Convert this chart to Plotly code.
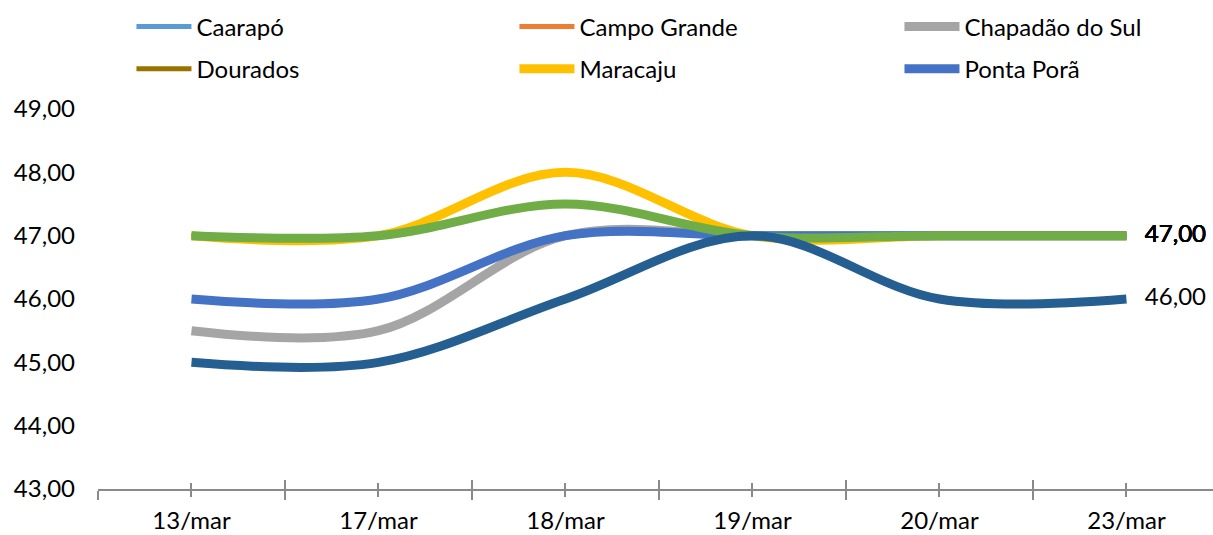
import plotly.graph_objects as go

categories = ["13/mar", "17/mar", "18/mar", "19/mar", "20/mar", "23/mar"]

caarapo = [47.0, 47.0, 47.5, 47.0, 47.0, 47.0]
campo_grande = [47.0, 47.0, 47.5, 47.0, 47.0, 47.0]
chapadao = [45.5, 45.5, 47.0, 47.0, 47.0, 47.0]
dourados = [47.0, 47.0, 47.5, 47.0, 47.0, 47.0]
maracaju = [47.0, 47.0, 48.0, 47.0, 47.0, 47.0]
ponta_pora = [46.0, 46.0, 47.0, 47.0, 47.0, 47.0]
sao_gabriel = [47.0, 47.0, 47.5, 47.0, 47.0, 47.0]
sidrolandia = [45.0, 45.0, 46.0, 47.0, 46.0, 46.0]

y_ticks = [43, 44, 45, 46, 47, 48, 49]

series = [
    ("Caarapó", caarapo, "#5B9BD5", 5, "legend", True),
    ("Campo Grande", campo_grande, "#ED7D31", 5, "legend2", True),
    ("Chapadão do Sul", chapadao, "#A5A5A5", 9, "legend3", True),
    ("Dourados", dourados, "#997300", 5, "legend4", True),
    ("Maracaju", maracaju, "#FFC000", 9, "legend5", True),
    ("Ponta Porã", ponta_pora, "#4472C4", 9, "legend6", True),
    ("São Gabriel do Oeste", sao_gabriel, "#70AD47", 9, "legend6", False),
    ("Sidrolândia", sidrolandia, "#255E91", 9, "legend6", False),
]

FONT = "Lato"
AXIS_GRAY = "#8A8A8A"
x = list(range(len(categories)))

fig = go.Figure()
for name, vals, color, width, leg, show in series:
    labels = [""] * (len(vals) - 1) + ["\u00a0\u00a0\u00a0" + f"{vals[-1]:.2f}".replace(".", ",")]
    fig.add_trace(go.Scatter(
        x=x, y=vals, name=name, mode="lines+text",
        line=dict(color=color, width=width, shape="spline", smoothing=1.0),
        text=labels, textposition="middle right",
        textfont=dict(family=FONT, size=24, color="#000000"),
        cliponaxis=False, legend=leg, showlegend=show,
    ))

# overlay axis to draw the upper half of the crossing tick marks
fig.add_trace(go.Scatter(x=x, y=sidrolandia, xaxis="x2", mode="lines",
                         line=dict(width=0), hoverinfo="skip", showlegend=False,
                         opacity=0))

xr = [-0.5, len(categories) - 0.5 - 0.037]
bounds = [i - 0.5 for i in range(len(categories) + 1)]

legend_cols = [0.03, 0.3735, 0.7188]
legend_rows = [1.2158, 1.105]
legend_common = dict(
    orientation="h", xanchor="left", yanchor="middle", itemwidth=55,
    font=dict(family=FONT, size=24, color="#000000"),
    bgcolor="rgba(0,0,0,0)", itemclick=False, itemdoubleclick=False,
)
legends = {}
for i in range(6):
    key = "legend" if i == 0 else f"legend{i + 1}"
    legends[key] = dict(legend_common, x=legend_cols[i % 3], y=legend_rows[i // 3])

fig.update_layout(
    width=1213, height=535,
    margin=dict(l=98, r=0, t=109, b=46, autoexpand=False),
    paper_bgcolor="white", plot_bgcolor="white",
    separators=",.",
    font=dict(family=FONT, size=24, color="#000000"),
    xaxis=dict(
        range=xr, tickmode="array", tickvals=x, ticktext=categories,
        showgrid=False, zeroline=False,
        showline=True, linecolor=AXIS_GRAY, linewidth=2,
        ticks="outside", ticklen=6, tickwidth=2, tickcolor=AXIS_GRAY,
        minor=dict(tickmode="array", tickvals=bounds, ticks="outside",
                   ticklen=9, tickwidth=2, tickcolor=AXIS_GRAY, showgrid=False),
        ticklabelstandoff=3,
        tickfont=dict(family=FONT, size=24, color="#000000"),
    ),
    xaxis2=dict(
        range=xr, overlaying="x", anchor="y", side="bottom",
        tickmode="array", tickvals=x, showticklabels=False,
        showgrid=False, zeroline=False, showline=False,
        ticks="inside", ticklen=6, tickwidth=2, tickcolor=AXIS_GRAY,
        minor=dict(tickmode="array", tickvals=bounds, ticks="inside",
                   ticklen=9, tickwidth=2, tickcolor=AXIS_GRAY, showgrid=False),
    ),
    yaxis=dict(
        range=[43, 49], tickmode="array", tickvals=y_ticks, tickformat=".2f",
        showgrid=False, zeroline=False, showline=False, ticks="",
        ticklabelstandoff=22,
        tickfont=dict(family=FONT, size=24, color="#000000"),
    ),
    showlegend=True,
    **legends,
)

fig.write_html("out.html", config={"displayModeBar": False},
               post_script="document.body.style.margin='0';")
